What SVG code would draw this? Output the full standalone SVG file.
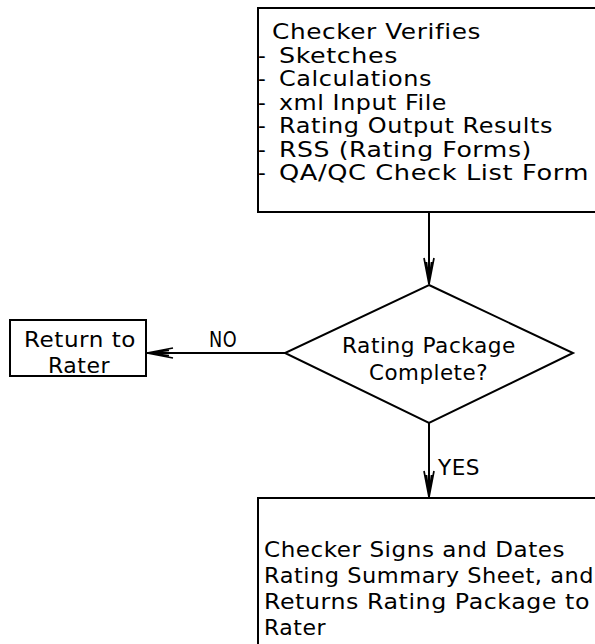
<svg xmlns="http://www.w3.org/2000/svg" width="595" height="644" viewBox="0 0 595 644">
<defs>
<style>
.box{fill:#fff;stroke:#000;stroke-width:2}
.ln{fill:none;stroke:#000;stroke-width:2}
text{font-family:"DejaVu Sans","Liberation Sans",Arial,sans-serif;font-size:21.5px;fill:#000;letter-spacing:0.5px}
</style>
<marker id="ah" markerWidth="30" markerHeight="14" viewBox="-28 -7 30 14" refX="0" refY="0" orient="auto" markerUnits="userSpaceOnUse">
<path d="M-26,-5 L0,0 L-26,5 M-22,-2.5 L0,0 L-22,2.5" fill="none" stroke="#000" stroke-width="1.7"/>
</marker>
</defs>
<rect width="595" height="644" fill="#fff"/>
<g id="checker-verifies">
<rect class="box" x="258" y="8" width="345" height="204"/>
<text x="272" y="39" textLength="209" lengthAdjust="spacingAndGlyphs">Checker Verifies</text>
<text y="63"><tspan x="258">- </tspan><tspan x="279" textLength="119" lengthAdjust="spacingAndGlyphs">Sketches</tspan></text>
<text y="86"><tspan x="258">- </tspan><tspan x="279" textLength="153" lengthAdjust="spacingAndGlyphs">Calculations</tspan></text>
<text y="110"><tspan x="258">- </tspan><tspan x="279" textLength="168" lengthAdjust="spacingAndGlyphs">xml Input File</tspan></text>
<text y="133"><tspan x="258">- </tspan><tspan x="279" textLength="274" lengthAdjust="spacingAndGlyphs">Rating Output Results</tspan></text>
<text y="157"><tspan x="258">- </tspan><tspan x="279" textLength="253" lengthAdjust="spacingAndGlyphs">RSS (Rating Forms)</tspan></text>
<text y="180"><tspan x="258">- </tspan><tspan x="279" textLength="310" lengthAdjust="spacingAndGlyphs">QA/QC Check List Form</tspan></text>
</g>
<g id="decision">
<polygon class="box" points="429,285 573,353 429,423 285,353"/>
<text x="342" y="353" textLength="174" lengthAdjust="spacingAndGlyphs">Rating Package</text>
<text x="369" y="380" textLength="119" lengthAdjust="spacingAndGlyphs">Complete?</text>
</g>
<g id="return-to-rater">
<rect class="box" x="10" y="320" width="136" height="56"/>
<text x="24" y="347" textLength="112" lengthAdjust="spacingAndGlyphs">Return to</text>
<text x="48" y="373" textLength="62" lengthAdjust="spacingAndGlyphs">Rater</text>
</g>
<g id="checker-signs">
<rect class="box" x="258" y="498" width="345" height="160"/>
<text x="264" y="557" textLength="301" lengthAdjust="spacingAndGlyphs">Checker Signs and Dates</text>
<text x="264" y="583" textLength="330" lengthAdjust="spacingAndGlyphs">Rating Summary Sheet, and</text>
<text x="264" y="609" textLength="326" lengthAdjust="spacingAndGlyphs">Returns Rating Package to</text>
<text x="264" y="635" textLength="62" lengthAdjust="spacingAndGlyphs">Rater</text>
</g>
<g id="connectors">
<line class="ln" x1="429" y1="212" x2="429" y2="284" marker-end="url(#ah)"/>
<line class="ln" x1="285" y1="353" x2="147" y2="353" marker-end="url(#ah)"/>
<line class="ln" x1="429" y1="423" x2="429" y2="497" marker-end="url(#ah)"/>
<text x="209" y="347" textLength="28" lengthAdjust="spacingAndGlyphs">NO</text>
<text x="438" y="475" textLength="42" lengthAdjust="spacingAndGlyphs">YES</text>
</g>
</svg>
